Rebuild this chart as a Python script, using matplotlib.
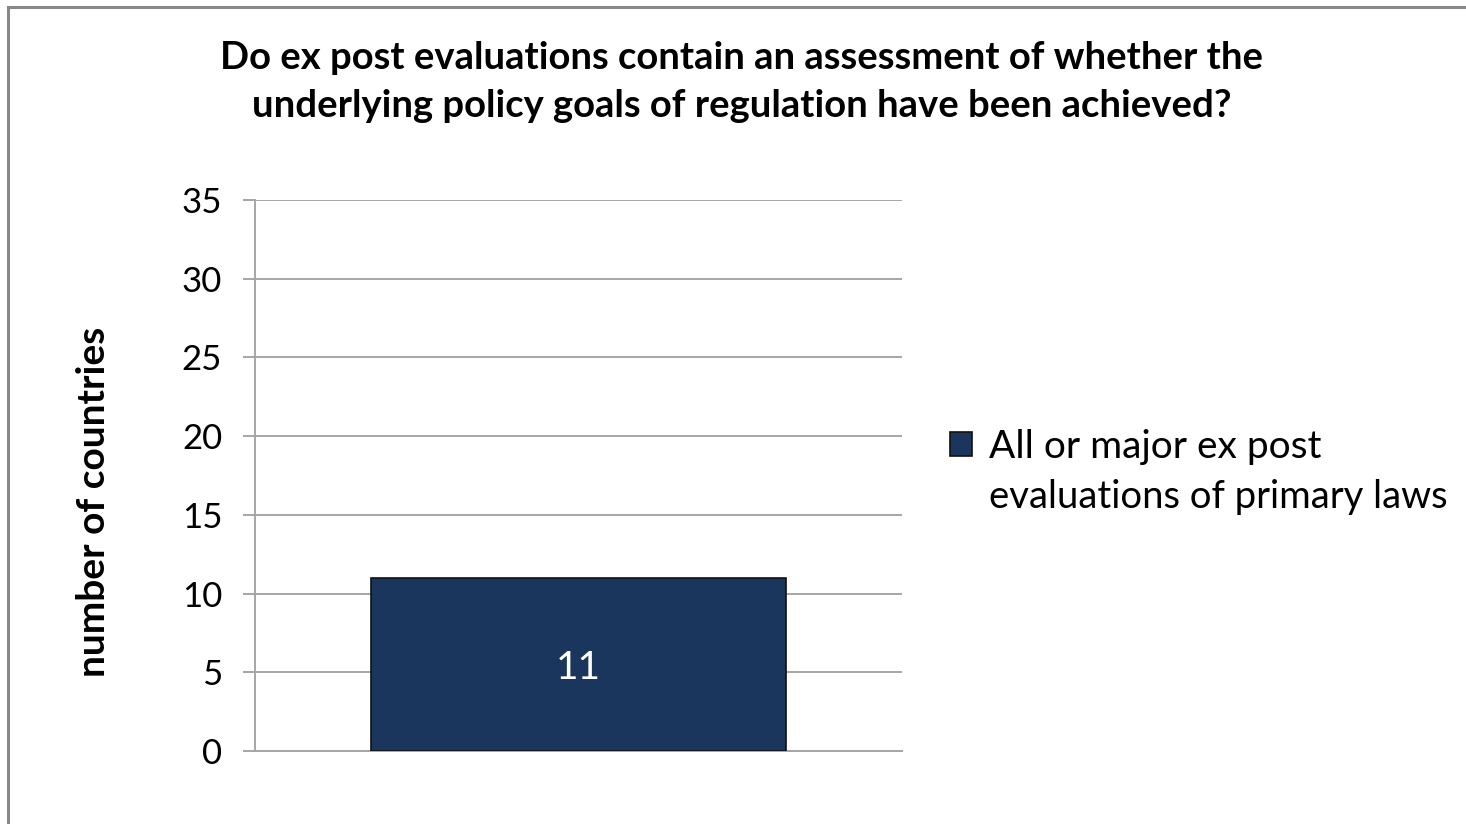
import matplotlib.pyplot as plt
from matplotlib.patches import Rectangle

# data
categories = [""]
legend_lines = ["All or major ex post", "evaluations of primary laws"]
values = [11]
y_ticks = [0, 5, 10, 15, 20, 25, 30, 35]

bar_color = "#1B365D"
grid_color = "#A6A6A6"

plt.rcParams["font.family"] = ["Lato", "DejaVu Sans"]

fig = plt.figure(figsize=(14.66, 8.24), dpi=100)
ax = fig.add_axes([0.1739, 0.0886, 0.4413, 0.6687])

bars = ax.bar(categories, values, width=0.641, color=bar_color,
              edgecolor="#111111", linewidth=1.2, label=legend_lines[0], zorder=3)
for b, v in zip(bars, values):
    ax.text(b.get_x() + b.get_width() / 2, v / 2, str(v), color="white",
            ha="center", va="center_baseline", fontsize=28, zorder=4)

ax.set_xlim(-0.5, 0.5)
ax.set_ylim(0, 35)
ax.set_yticks(y_ticks)
ax.set_yticklabels([str(t) for t in y_ticks], fontsize=25)
ax.tick_params(axis="y", length=8.6, color=grid_color, width=1.4, pad=15)
ax.tick_params(axis="x", length=0, labelbottom=False)
ax.grid(axis="y", color=grid_color, linewidth=1.4, zorder=0)
for s in ["top", "right"]:
    ax.spines[s].set_visible(False)
for s in ["left", "bottom"]:
    ax.spines[s].set_color(grid_color)
    ax.spines[s].set_linewidth(1.4)

ax.set_ylabel("number of countries", fontsize=28, fontweight="bold")
ax.yaxis.set_label_coords(-0.223, 0.452)

fig.text(0.506, 0.9005, "Do ex post evaluations contain an assessment of whether the\n"
         "underlying policy goals of regulation have been achieved?",
         ha="center", va="center", fontsize=27.5, fontweight="bold", linespacing=1.47)

leg = ax.legend(loc="center left", bbox_to_anchor=(1.051, 0.552), frameon=False,
                fontsize=28, handlelength=0.55, handleheight=0.55, handletextpad=0.45,
                borderaxespad=0)

# second legend line, aligned under the first
fig.canvas.draw()
bb = leg.get_texts()[0].get_window_extent()
fig.text(bb.x0 / fig.bbox.width, (bb.y0 - 50) / fig.bbox.height, legend_lines[1],
         fontsize=27.5, ha="left", va="bottom")

# outer frame
fig.patches.append(Rectangle((0.0055, -0.01), 1.0, 1.0 - 0.0085 + 0.01, transform=fig.transFigure,
                             fill=False, edgecolor="#888888", linewidth=2.2))

fig.savefig("out.png", dpi=100)
